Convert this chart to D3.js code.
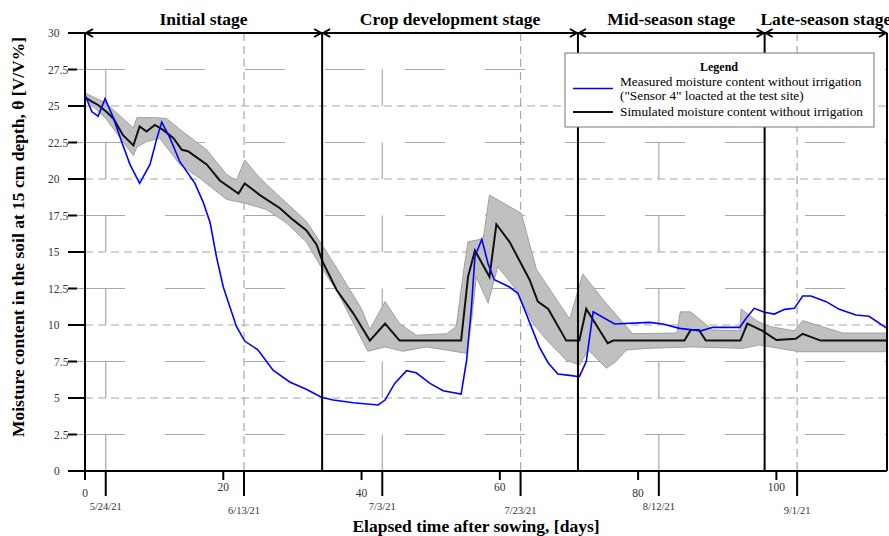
<!DOCTYPE html>
<html>
<head>
<meta charset="utf-8">
<script src="https://cdn.jsdelivr.net/npm/d3@7"></script>
<style>
  body { margin: 0; background: #fff; }
  text { font-family: "Liberation Serif", "Times New Roman", serif; }
</style>
</head>
<body>
<svg id="chart" width="889" height="536"></svg>
<script>
// measured soil moisture (Sensor 4), [day, value]
const measured = [[0,25.75],[1,24.6],[1.9,24.3],[2.9,25.5],[4.1,24.2],[5.3,22.55],[6.5,21.0],[7.9,19.7],[9.4,21.0],[10.4,22.8],[11.1,23.9],[12.3,22.8],[13.7,21.2],[15.9,19.7],[17.1,18.4],[18.1,17.0],[19.0,14.7],[20.0,12.6],[21.9,9.9],[23.1,8.9],[25.0,8.3],[27.2,6.9],[29.6,6.1],[32.0,5.6],[34.2,5.05],[35.9,4.86],[38.8,4.68],[42.4,4.52],[43.4,4.86],[44.8,6.0],[46.5,6.87],[47.9,6.73],[49.9,6.0],[51.8,5.5],[54.4,5.27],[55.2,7.6],[55.9,11.25],[56.4,14.7],[57.4,15.87],[58.3,14.2],[59.2,13.1],[61.4,12.6],[62.6,12.17],[63.8,10.8],[65.7,8.5],[67.0,7.4],[68.4,6.64],[70.1,6.55],[71.5,6.46],[72.5,7.5],[73.5,10.9],[76.6,10.07],[81.6,10.18],[83.6,10.07],[86,9.77],[89.1,9.6],[90.8,9.84],[94.7,9.84],[95.6,10.45],[96.8,11.14],[98.3,10.87],[99.7,10.75],[101.2,11.07],[102.6,11.14],[103.8,11.99],[105,11.99],[107.2,11.6],[109.1,11.07],[111.5,10.68],[113.4,10.6],[116,9.77]];

// simulated moisture, [day, value]
const simulated = [[0,25.6],[1,25.3],[1.9,25.07],[3.1,24.6],[4.1,24.15],[5.5,23.0],[7,22.3],[7.9,23.6],[8.9,23.25],[10.1,23.7],[11.3,23.36],[12.8,22.8],[14,22.0],[14.9,21.9],[16.1,21.5],[17.6,21.0],[19.5,19.9],[22.2,19.0],[23.1,19.7],[25.3,18.9],[28.2,18.0],[30.1,17.2],[32,16.5],[33.5,15.5],[34.4,14.3],[36.4,12.4],[38.8,10.8],[41.2,8.93],[43.4,10.1],[45.5,8.93],[54.4,8.93],[55.4,13.3],[56.4,15.1],[58.5,13.3],[59.5,16.9],[61.4,15.7],[64.3,13.1],[65.5,11.6],[67,11.1],[69.6,8.93],[71.5,8.93],[72.5,11.1],[75.6,8.75],[76.4,8.93],[86.7,8.93],[87.6,9.66],[88.8,9.66],[89.8,8.93],[94.8,8.93],[95.8,10.1],[98,9.6],[100,8.97],[102.8,9.05],[103.8,9.4],[106.4,8.93],[116,8.93]];

// simulation envelope
const bandUpper = [[0,25.9],[3,25.2],[7,23.5],[7.5,24.2],[10,24.2],[11.8,24.15],[13.7,23.4],[17.6,22.0],[20.5,20.3],[21.9,19.9],[23.1,21.3],[25.3,20.05],[27.7,19.0],[32,17.1],[34.4,15.4],[36.4,13.9],[40,11.1],[41.2,9.7],[43.4,11.6],[45.5,10.1],[47.9,9.3],[52.3,9.4],[53.7,9.9],[54.7,13.5],[55.4,15.7],[57.6,15.9],[58.5,18.9],[63.1,17.65],[65.3,13.8],[70.1,10.4],[72,13.5],[75,11.7],[79.2,9.4],[85.6,9.45],[86.1,10.9],[87.6,10.9],[90.8,9.66],[94.7,9.6],[94.9,11.1],[97.1,10.3],[99,9.9],[102.6,9.6],[103.8,10.3],[109.6,9.45],[116,9.45]];
const bandLower = [[0,25.5],[3,24.15],[7,21.6],[7.5,22.2],[8.9,22.55],[10.8,22.8],[13.7,21.0],[16.6,20.05],[20.5,18.6],[23.1,18.35],[26.3,17.9],[29.1,17.0],[32,15.7],[34,14.1],[36.6,12.2],[40.9,8.2],[43.4,8.5],[46,8.2],[49.4,8.5],[55.2,8.06],[55.9,10.3],[56.6,13.3],[58.3,11.5],[59.7,14.0],[62.4,12.4],[64.8,10.1],[66.7,9.0],[69.6,7.6],[71.5,7.26],[72.8,8.3],[75.4,7.03],[76.8,7.5],[78.3,8.29],[81.2,8.4],[87.9,8.5],[95.1,8.4],[97.5,8.63],[103.3,8.17],[116,8.17]];

const stageBounds = [0, 34.3, 71.3, 98.3, 116];
const stageNames = ["Initial stage", "Crop development stage", "Mid-season stage", "Late-season stage"];

const dayTicks = [0, 20, 40, 60, 80, 100];
const dateTicks = [3, 23, 43, 63, 83, 103];
const dateLabels = ["5/24/21", "6/13/21", "7/3/21", "7/23/21", "8/12/21", "9/1/21"];
const yMajor = [0, 5, 10, 15, 20, 25, 30];
const yMinor = [2.5, 7.5, 12.5, 17.5, 22.5, 27.5];

const svg = d3.select("#chart");
const x = d3.scaleLinear().domain([0, 116]).range([85, 887]);
const y = d3.scaleLinear().domain([0, 30]).range([471, 33]);
const gridCol = "#a8a8a8";

// grid: long dashes on the half steps, short dashes on the major steps
svg.selectAll(".hminor").data(yMinor).enter().append("line")
  .attr("x1", 85).attr("x2", 887).attr("y1", d => y(d)).attr("y2", d => y(d))
  .attr("stroke", gridCol).attr("stroke-width", 1.2).attr("stroke-dasharray", "40 40");
svg.selectAll(".hminorstub").data(yMinor).enter().append("line")
  .attr("x1", 77).attr("x2", 85).attr("y1", d => y(d)).attr("y2", d => y(d))
  .attr("stroke", gridCol).attr("stroke-width", 1.2);
svg.selectAll(".hmajor").data(yMajor.slice(1, 6)).enter().append("line")
  .attr("x1", 85).attr("x2", 887).attr("y1", d => y(d)).attr("y2", d => y(d))
  .attr("stroke", gridCol).attr("stroke-width", 1.2).attr("stroke-dasharray", "8 5");

// date grid: odd dates short dashes, even dates long dashes starting at the bottom
const longDash = y(0) - y(2.5);
svg.selectAll(".vlong").data(dateTicks.filter((d, i) => i % 2 === 0)).enter().append("line")
  .attr("x1", d => x(d)).attr("x2", d => x(d)).attr("y1", y(0)).attr("y2", y(30))
  .attr("stroke", gridCol).attr("stroke-width", 1.2)
  .attr("stroke-dasharray", longDash + " " + longDash);
svg.selectAll(".vshort").data(dateTicks.filter((d, i) => i % 2 === 1)).enter().append("line")
  .attr("x1", d => x(d)).attr("x2", d => x(d)).attr("y1", 33).attr("y2", 471)
  .attr("stroke", gridCol).attr("stroke-width", 1.2).attr("stroke-dasharray", "8 5");

// envelope
const pt = d3.line().x(d => x(d[0])).y(d => y(d[1]));
svg.append("path")
  .attr("d", pt(bandUpper.concat(bandLower.slice().reverse())) + "Z")
  .attr("fill", "#c0c0c0").attr("stroke", "#a0a0a0").attr("stroke-width", 1);

svg.append("path").attr("d", pt(simulated))
  .attr("fill", "none").attr("stroke", "#111").attr("stroke-width", 2);
svg.append("path").attr("d", pt(measured))
  .attr("fill", "none").attr("stroke", "#0000ff").attr("stroke-width", 1.6);

// stage boundaries
svg.selectAll(".stage").data(stageBounds.slice(1)).enter().append("line")
  .attr("x1", d => x(d)).attr("x2", d => x(d)).attr("y1", 33).attr("y2", 471)
  .attr("stroke", "#000").attr("stroke-width", 2);

// axes
svg.append("line").attr("x1", 85).attr("x2", 85).attr("y1", 33).attr("y2", 471)
  .attr("stroke", "#000").attr("stroke-width", 2);
svg.append("line").attr("x1", 68).attr("x2", 887).attr("y1", 471).attr("y2", 471)
  .attr("stroke", "#000").attr("stroke-width", 2);

svg.selectAll(".ytick").data(yMajor).enter().append("line")
  .attr("x1", 68).attr("x2", 85).attr("y1", d => y(d)).attr("y2", d => y(d))
  .attr("stroke", "#000").attr("stroke-width", 2);
svg.selectAll(".yminortick").data(yMinor).enter().append("line")
  .attr("x1", 68).attr("x2", 77).attr("y1", d => y(d)).attr("y2", d => y(d))
  .attr("stroke", "#000").attr("stroke-width", 2);
svg.selectAll(".ylab").data(yMajor.concat(yMinor)).enter().append("text")
  .attr("x", d => 60 - 6 * String(Math.floor(d)).length)
  .attr("y", d => y(d) + 4)
  .attr("font-size", 11.5).attr("fill", "#333")
  .text(d => String(d));

svg.selectAll(".xtick").data(dayTicks).enter().append("line")
  .attr("x1", d => x(d)).attr("x2", d => x(d)).attr("y1", 471).attr("y2", 480)
  .attr("stroke", "#000").attr("stroke-width", 2);
svg.selectAll(".xlab").data(dayTicks).enter().append("text")
  .attr("x", d => x(d)).attr("y", (d, i) => i % 2 ? 491 : 497)
  .attr("text-anchor", "middle").attr("font-size", 11.5).attr("fill", "#333")
  .text(d => d);

svg.selectAll(".dtick").data(dateTicks).enter().append("line")
  .attr("x1", d => x(d)).attr("x2", d => x(d)).attr("y1", 471).attr("y2", 496)
  .attr("stroke", "#000").attr("stroke-width", 2);
svg.selectAll(".dlab").data(dateTicks).enter().append("text")
  .attr("x", d => x(d)).attr("y", (d, i) => i % 2 ? 514 : 510)
  .attr("text-anchor", "middle").attr("font-size", 10.5).attr("fill", "#333")
  .text((d, i) => dateLabels[i]);

// stage arrows across the top
svg.append("line").attr("x1", 85).attr("x2", 887).attr("y1", 33).attr("y2", 33)
  .attr("stroke", "#000").attr("stroke-width", 2);
stageBounds.slice(0, 4).forEach((s, i) => {
  const a = x(s), b = x(stageBounds[i + 1]);
  svg.append("path")
    .attr("d", `M${a + 8},${29} L${a + 1},${33} L${a + 8},${37} M${b - 8},${29} L${b - 1},${33} L${b - 8},${37}`)
    .attr("fill", "none").attr("stroke", "#000").attr("stroke-width", 2);
  svg.append("text")
    .attr("x", (a + b) / 2).attr("y", 25)
    .attr("text-anchor", "middle").attr("font-size", 17.5).attr("font-weight", "bold")
    .text(stageNames[i]);
});

// legend
const lg = svg.append("g");
lg.append("rect").attr("x", 565).attr("y", 53).attr("width", 309).attr("height", 74)
  .attr("fill", "#fff").attr("stroke", "#777").attr("stroke-width", 1);
lg.append("text").attr("x", 719).attr("y", 70.5).attr("text-anchor", "middle")
  .attr("font-size", 12).attr("font-weight", "bold").text("Legend");
lg.append("line").attr("x1", 573).attr("x2", 613).attr("y1", 88.5).attr("y2", 88.5)
  .attr("stroke", "#0000ff").attr("stroke-width", 1.6);
lg.append("text").attr("x", 620).attr("y", 85.5).attr("font-size", 13.3)
  .text("Measured moisture content without irrigation");
lg.append("text").attr("x", 620).attr("y", 99.5).attr("font-size", 13.3)
  .text("(\"Sensor 4\" loacted at the test site)");
lg.append("line").attr("x1", 573).attr("x2", 613).attr("y1", 112).attr("y2", 112)
  .attr("stroke", "#111").attr("stroke-width", 2);
lg.append("text").attr("x", 620).attr("y", 116).attr("font-size", 13.3)
  .text("Simulated moisture content without irrigation");

// axis titles
svg.append("text").attr("x", 476).attr("y", 532).attr("text-anchor", "middle")
  .attr("font-size", 17.5).attr("font-weight", "bold")
  .text("Elapsed time after sowing, [days]");
svg.append("text").attr("transform", "translate(24,237) rotate(-90)")
  .attr("text-anchor", "middle").attr("font-size", 17.5).attr("font-weight", "bold")
  .text("Moisture content in the soil at 15 cm depth, θ [V/V%]");
</script>
</body>
</html>
